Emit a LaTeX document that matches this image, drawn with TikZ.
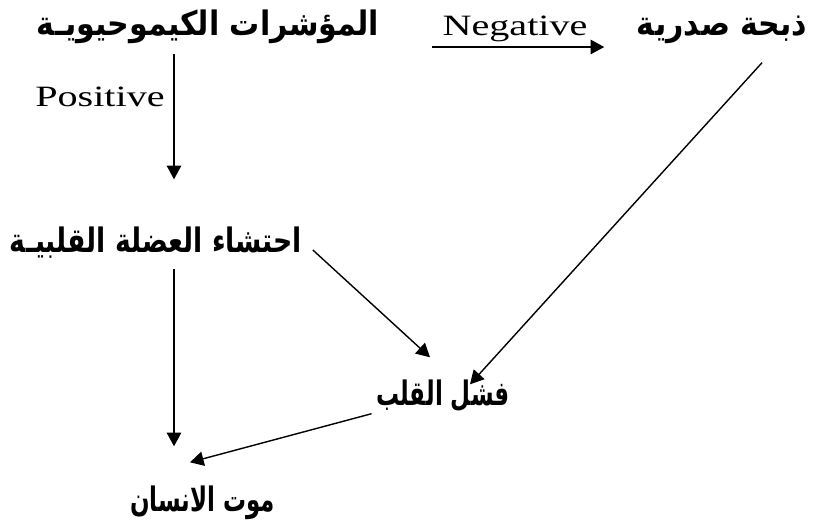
\documentclass[tikz,border=0pt]{standalone}
\usepackage{fontspec}
\setmainfont{Liberation Serif}
\newfontfamily\arabicfont[Script=Arabic, FakeStretch=0.89]{DejaVu Sans}
\newfontfamily\arabicmid[Script=Arabic, FakeStretch=0.79]{DejaVu Sans}
\newfontfamily\arabicslim[Script=Arabic, FakeStretch=0.68]{DejaVu Sans}
\newfontfamily\latinfont[FakeStretch=1.36]{Liberation Serif}
\TeXXeTstate=1
\usetikzlibrary{arrows.meta}
\tikzset{
  term/.style={inner sep=0pt, text height=0.55cm, text depth=0.2cm,
    font=#1\bfseries\fontsize{24}{28}\selectfont},
  term/.default=\arabicfont,
  tag/.style={inner sep=0pt, font=\latinfont\fontsize{21}{25}\selectfont}
}
\begin{document}
\begin{tikzpicture}[>={Triangle[length=0.34cm,width=0.36cm]}, line width=1pt]
\useasboundingbox (0,0) rectangle (20.325,-13.125);
\node[term] (markers) at (5.2,-0.7) {\beginR المؤشرات الكيموحيويـة\endR};
\node[term] (angina) at (18.05,-0.7) {\beginR ذبحة صدرية\endR};
\node[term=\arabicmid] (infarct) at (3.9,-6.125) {\beginR احتشاء العضلة القلبيـة\endR};
\node[term=\arabicslim] (failure) at (11.075,-9.95) {\beginR فشل القلب\endR};
\node[term=\arabicslim] (death) at (5.06,-12.62) {\beginR موت الانسان\endR};
\node[tag] (pos) at (2.5,-2.42) {Positive};
\node[tag] (neg) at (12.875,-0.72) {Negative};
\coordinate (negstart) at (10.8,-1.175);
\draw[->, shorten <=0.25cm, shorten >=1.25cm] ([xshift=-0.85cm]markers.south) -- ([xshift=-0.85cm]markers.south |- infarct.north);
\draw[->, shorten >=0.8cm] (negstart) -- (negstart -| angina.west);
\draw[->] ([xshift=1cm,yshift=-0.475cm]angina.south) -- ([xshift=0.675cm,yshift=-0.05cm]failure.north);
\draw[->] ([xshift=0.25cm,yshift=-0.125cm]infarct.east) -- ([xshift=-0.325cm,yshift=0.625cm]failure.north);
\draw[->, shorten <=0.2cm, shorten >=1.07cm] ([xshift=0.45cm]infarct.south) -- ([xshift=0.45cm]infarct.south |- death.north);
\draw[->] ([xshift=-0.1cm]failure.south west) -- ([xshift=-0.31cm,yshift=0.67cm]death.north);
\end{tikzpicture}
\end{document}
